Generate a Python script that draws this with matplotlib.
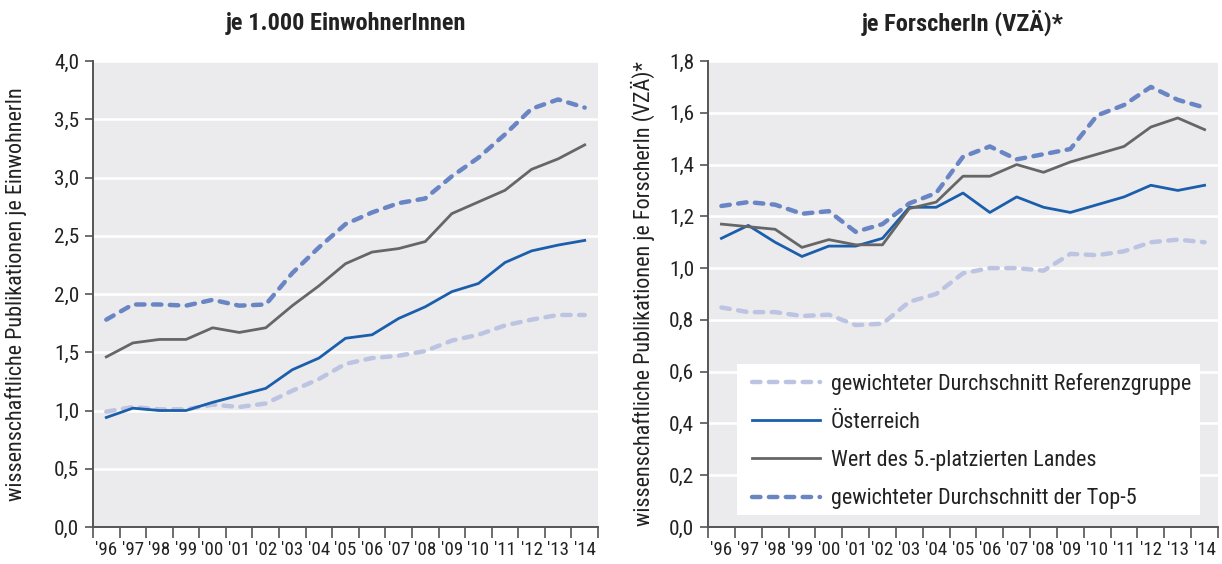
import matplotlib
matplotlib.use("Agg")
import matplotlib.pyplot as plt
from matplotlib import font_manager as fm
from matplotlib.patches import Rectangle
import numpy as np

years = ["'96", "'97", "'98", "'99", "'00", "'01", "'02", "'03", "'04", "'05",
         "'06", "'07", "'08", "'09", "'10", "'11", "'12", "'13", "'14"]

# je 1.000 EinwohnerInnen
ew_ref = [0.99, 1.03, 1.01, 1.01, 1.05, 1.03, 1.06, 1.17, 1.27, 1.40,
          1.45, 1.47, 1.51, 1.60, 1.65, 1.73, 1.78, 1.82, 1.82]
ew_at = [0.94, 1.02, 1.00, 1.00, 1.07, 1.13, 1.19, 1.35, 1.45, 1.62,
         1.65, 1.79, 1.89, 2.02, 2.09, 2.27, 2.37, 2.42, 2.46]
ew_5th = [1.46, 1.58, 1.61, 1.61, 1.71, 1.67, 1.71, 1.90, 2.07, 2.26,
          2.36, 2.39, 2.45, 2.69, 2.79, 2.89, 3.07, 3.16, 3.28]
ew_top5 = [1.78, 1.91, 1.91, 1.90, 1.95, 1.90, 1.91, 2.18, 2.40, 2.60,
           2.70, 2.78, 2.82, 3.01, 3.17, 3.37, 3.59, 3.67, 3.60]

# je ForscherIn (VZÄ)
fo_ref = [0.848, 0.83, 0.83, 0.815, 0.82, 0.78, 0.785, 0.87, 0.90, 0.98,
          1.00, 1.00, 0.99, 1.055, 1.05, 1.065, 1.10, 1.11, 1.10]
fo_at = [1.115, 1.165, 1.10, 1.045, 1.085, 1.085, 1.115, 1.235, 1.235, 1.29,
         1.215, 1.275, 1.235, 1.215, 1.245, 1.275, 1.32, 1.30, 1.32]
fo_5th = [1.17, 1.16, 1.15, 1.08, 1.11, 1.09, 1.09, 1.23, 1.255, 1.355,
          1.355, 1.40, 1.37, 1.41, 1.44, 1.47, 1.545, 1.58, 1.535]
fo_top5 = [1.24, 1.255, 1.245, 1.21, 1.22, 1.14, 1.17, 1.25, 1.29, 1.43,
           1.47, 1.42, 1.44, 1.46, 1.59, 1.63, 1.70, 1.65, 1.62]

labels = ["gewichteter Durchschnitt Referenzgruppe", "Österreich",
          "Wert des 5.-platzierten Landes", "gewichteter Durchschnitt der Top-5"]

# pick a condensed font if available
names = {f.name for f in fm.fontManager.ttflist}
pref = ['Roboto Condensed', 'Liberation Sans Narrow', 'PT Sans Narrow', 'Archivo Narrow',
        'Fira Sans Condensed', 'IBM Plex Sans Condensed', 'Open Sans Condensed']
font = next((p for p in pref if p in names), 'DejaVu Sans')
plt.rcParams['font.family'] = [font, 'DejaVu Sans']

c_ref = '#BDC4E2'
c_at = '#1B5EAB'
c_5th = '#666666'
c_top5 = '#6A85C4'
bg = '#EBEBEE'
spine_c = '#555555'
txt_c = '#222222'

W, H = 1222, 564
fig = plt.figure(figsize=(W / 100, H / 100), dpi=100)
renderer = fig.canvas.get_renderer()

def fit(text, target_px, weight='normal'):
    t = fig.text(0, 0, text, fontsize=10, fontweight=weight)
    bb = t.get_window_extent(renderer=renderer)
    t.remove()
    return 10 * target_px / bb.width

fs_tick_x = fit("'96", 22)
fs_tick_y = fit("4,0", 25)
fs_leg = fit(labels[0], 359)
fs_title = fit('je 1.000 EinwohnerInnen', 240, 'bold')
fs_ylab = fit('wissenschaftliche Publikationen je EinwohnerIn', 412)

def make_ax(x0, x1, y0, y1):
    return fig.add_axes([x0 / W, (H - y1) / H, (x1 - x0) / W, (y1 - y0) / H])

axL = make_ax(93, 598, 61, 527)
axR = make_ax(708, 1218, 61, 527)

def style(ax, ymax, step):
    x = np.arange(len(years))
    ax.set_facecolor(bg)
    ax.set_xlim(-0.5, len(years) - 0.5)
    ax.set_ylim(0, ymax)
    yt = np.arange(0, ymax + 1e-9, step)
    ax.set_yticks(yt)
    ax.set_yticklabels(['{:.1f}'.format(v).replace('.', ',') for v in yt], fontsize=fs_tick_y)
    ax.set_xticks(x)
    ax.set_xticklabels(years, fontsize=fs_tick_x)
    ax.set_xticks(np.arange(-0.5, len(years)), minor=True)
    ax.tick_params(axis='x', which='major', length=0, pad=10, colors=txt_c)
    ax.tick_params(axis='x', which='minor', length=8, width=1.2, color=spine_c)
    ax.tick_params(axis='y', length=6, width=1.2, color=spine_c, labelcolor=txt_c, pad=4)
    for s in ['top', 'right']:
        ax.spines[s].set_visible(False)
    for s in ['left', 'bottom']:
        ax.spines[s].set_color(spine_c)
        ax.spines[s].set_linewidth(1.4)
    ax.grid(axis='y', color='white', linewidth=1.8)
    ax.set_axisbelow(True)

DASH = (1.9, 1.9)

def draw(ax, ref, at, fifth, top5):
    x = np.arange(len(years))
    ax.plot(x, ref, color=c_ref, lw=3.2, dashes=DASH, dash_capstyle='round', label=labels[0])
    ax.plot(x, at, color=c_at, lw=2.0, label=labels[1])
    ax.plot(x, fifth, color=c_5th, lw=2.0, label=labels[2])
    ax.plot(x, top5, color=c_top5, lw=3.2, dashes=DASH, dash_capstyle='round', label=labels[3])

style(axL, 4.0, 0.5)
draw(axL, ew_ref, ew_at, ew_5th, ew_top5)
style(axR, 1.8, 0.2)
draw(axR, fo_ref, fo_at, fo_5th, fo_top5)

axL.set_title('je 1.000 EinwohnerInnen', fontsize=fs_title, fontweight='bold', pad=22, color=txt_c)
axR.set_title('je ForscherIn (VZÄ)*', fontsize=fs_title, fontweight='bold', pad=22, color=txt_c)
axL.set_ylabel('wissenschaftliche Publikationen je EinwohnerIn', fontsize=fs_ylab, labelpad=19, color=txt_c)
axR.set_ylabel('wissenschaftliche Publikationen je ForscherIn (VZÄ)*', fontsize=fs_ylab, labelpad=10, color=txt_c)

# white legend box (drawn separately for exact padding)
axW, axH = 510, 466
axR.add_patch(Rectangle((29 / axW, 12 / axH), 463 / axW, 151 / axH, transform=axR.transAxes,
                        facecolor='white', edgecolor='none', zorder=4))

px2pt = 0.72
fs_leg_px = fs_leg / px2pt
leg = axR.legend(loc='lower left', bbox_to_anchor=(38 / axW, 12 / axH, 450 / axW, 150 / axH),
                 mode='expand', frameon=False, fontsize=fs_leg,
                 handlelength=68 / fs_leg_px, handletextpad=11 / fs_leg_px,
                 labelspacing=0.78, borderpad=0.25, borderaxespad=0)
leg.set_zorder(6)
for t in leg.get_texts():
    t.set_color(txt_c)

fig.savefig('out.png', dpi=100)
